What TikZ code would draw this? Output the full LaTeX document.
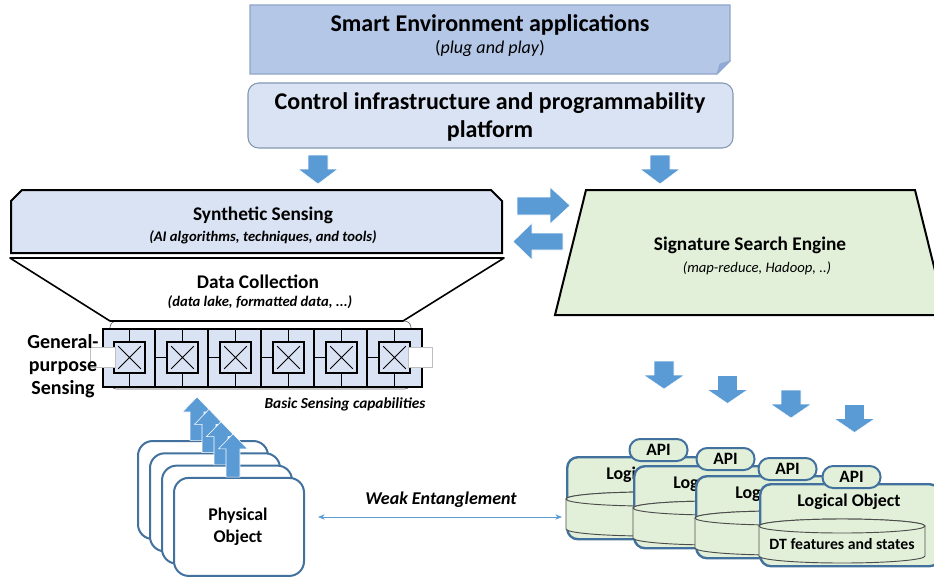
\documentclass[tikz,border=0pt]{standalone}
\usepackage{fontspec}
\setmainfont{Carlito}
\usetikzlibrary{arrows.meta}

\definecolor{appblue}{RGB}{180,199,231}
\definecolor{appedge}{RGB}{143,165,200}
\definecolor{appfold}{RGB}{143,170,220}
\definecolor{paleblue}{RGB}{218,227,243}
\definecolor{ctrledge}{RGB}{132,151,176}
\definecolor{arrowblue}{RGB}{91,155,213}
\definecolor{darkblue}{RGB}{65,113,156}
\definecolor{palegreen}{RGB}{226,240,217}

\begin{document}
\begin{tikzpicture}[x=0.75pt,y=0.75pt,yscale=-1,xscale=1,
  barrow/.style={fill=arrowblue, draw=white, line width=0.4},
  physbox/.style={draw=darkblue, line width=1.5, fill=white, rounded corners=11, minimum width=97.5pt, minimum height=73.5pt, anchor=north west},
  logbox/.style={draw=darkblue, line width=1.8, fill=palegreen, rounded corners=8, minimum width=135pt, minimum height=61.5pt, anchor=north west},
  apitab/.style={draw=darkblue, line width=1.5, fill=palegreen, rounded corners=8, minimum width=43.5pt, minimum height=16.5pt, inner sep=0pt, font=\fontsize{13}{15}\selectfont\bfseries},
  dbcyl/.style={draw=black!70, line width=0.7, fill=palegreen},
  xbox/.style={draw, line width=1.6, fill=paleblue, minimum size=23pt, inner sep=0pt,
    path picture={\draw[line width=0.7] ([shift={(3pt,-3pt)}]path picture bounding box.north west) -- ([shift={(-3pt,3pt)}]path picture bounding box.south east) ([shift={(-3pt,-3pt)}]path picture bounding box.north east) -- ([shift={(3pt,3pt)}]path picture bounding box.south west);}},
  bigtitle/.style={font=\fontsize{18}{21}\selectfont\bfseries, align=center, inner sep=0pt},
  midtitle/.style={font=\fontsize{14.5}{17}\selectfont\bfseries, align=center, inner sep=0pt},
  subnote/.style={font=\fontsize{11}{13}\selectfont\bfseries\itshape, align=center, inner sep=0pt},
  objtext/.style={font=\fontsize{13.4}{16.5}\selectfont\bfseries, align=center, inner sep=0pt}
]
\useasboundingbox (0,0) rectangle (934,576);

%Shape: Folded Corner [id:apps]
\draw[draw=appedge, fill=appblue, line width=0.8] (250,5) -- (730,5) -- (730,61) -- (717,74) -- (250,74) -- cycle ;
\draw[draw=appedge, fill=appfold, line width=0.5] (717,74) -- (720,64) -- (730,61) -- cycle ;
% Text Node
\node[bigtitle] (appstitle) at (490,25) {Smart Environment applications};
\node[inner sep=0pt, font=\fontsize{13.5}{16}\selectfont] (appsnote) at (490,48) {(\textit{plug and play})};

%Shape: Rounded Rectangle [id:control]
\draw[draw=ctrledge, fill=paleblue, line width=0.8, rounded corners=8] (248,83) rectangle (733,148) ;
% Text Node
\node[bigtitle] (ctrltitle) at (490,117) {Control infrastructure and programmability\\platform};

%Down Arrows [id:ctrlarrows]
\draw[barrow, shift={(318,155)}] (-10,0) -- (10,0) -- (10,14) -- (20,14) -- (0,29) -- (-20,14) -- (-10,14) -- cycle ;
\draw[barrow, shift={(660,155)}] (-10,0) -- (10,0) -- (10,14) -- (20,14) -- (0,29) -- (-20,14) -- (-10,14) -- cycle ;

%Shape: Snip Corners [id:synth]
\draw[fill=paleblue, line width=1.5] (11,201) -- (22,190) -- (491,190) -- (502,201) -- (502,253) -- (11,253) -- cycle ;
% Text Node
\node[midtitle] (synthtitle) at (263,215) {Synthetic Sensing};
\node[subnote] (synthnote) at (263,237) {(AI algorithms, techniques, and tools)};

%Shape: Rounded Outline [id:arrayshadow]
\draw[black!60, line width=0.5, rounded corners=5] (110,321) rectangle (411,389) ;
%Shape: Trapezoid [id:collect]
\draw[fill=white, line width=1.2, line join=round] (10,258) -- (504,258) -- (403,321) -- (110,321) -- cycle ;
% Text Node
\node[midtitle] (collecttitle) at (258,282) {Data Collection};
\node[subnote] (collectnote) at (260,302) {(data lake, formatted data, ...)};

%Shape: Sensor Array [id:sens]
\node[draw, fill=paleblue, line width=1.6, minimum width=239.25pt, minimum height=43.5pt, anchor=north west, inner sep=0pt] (sens) at (102,328) {};
\foreach \i in {1,...,5}
  \draw[line width=1.2] ({102+53*\i},328) -- ({102+53*\i},386) ;
\foreach \i in {0,...,5}{
  \node[xbox] (xb\i) at ({129.5+53*\i},357.5) {};
  \draw[line width=1.2] (xb\i.north) -- (xb\i.north |- sens.north) ;
  \draw[line width=1.2] (xb\i.south) -- (xb\i.south |- sens.south) ;
  \draw[line width=1.2] (xb\i.west) -- ++(-12,0) ;
}
%Shape: Rectangle [id:maskleft]
\draw[draw=black!25, fill=white, line width=0.5] (90,347) rectangle (115,367) ;
%Shape: Rectangle [id:maskright]
\draw[draw=black!25, fill=white, line width=0.5] (408,347) rectangle (432,367) ;

% Text Node
\node[font=\fontsize{15}{17.3}\selectfont\bfseries, align=center, inner sep=0pt] (gplabel) at (63,366) {General-\\purpose\\Sensing};
\node[font=\fontsize{11.5}{13}\selectfont\bfseries\itshape, inner sep=0pt] (basiclabel) at (345,404) {Basic Sensing capabilities};

%Physical Objects with Up Arrows
\foreach \i in {0,...,3}{
  \node[physbox] (phys\i) at ({137+12*\i},{440+12.3*\i}) {};
  \draw[barrow, shift={({197+12*\i},{397+12.3*\i})}] (0,0) -- (14.5,15) -- (7,15) -- (7,43.3) -- (-7,43.3) -- (-7,15) -- (-14.5,15) -- cycle ;
}
% Text Node
\node[objtext] (physlabel) at (238,527) {Physical\\Object};

%Block Arrows [id:exchange]
\draw[barrow] (517,197) -- (550,197) -- (550,187) -- (570,205.5) -- (550,224) -- (550,215) -- (517,215) -- cycle ;
\draw[barrow] (563,233) -- (532,233) -- (532,223) -- (513,241.5) -- (532,260) -- (532,250) -- (563,250) -- cycle ;

%Shape: Trapezoid [id:sse]
\draw[fill=palegreen, line width=1.5] (586,190) -- (915,190) -- (946,315) -- (555,315) -- cycle ;
% Text Node
\node[midtitle] (ssetitle) at (750,245) {Signature Search Engine};
\node[inner sep=0pt, font=\fontsize{11}{13}\selectfont\itshape] (ssenote) at (757,268) {(map-reduce, Hadoop, ..)};

%Down Arrows [id:ssearrows]
\foreach \i in {0,...,3}
  \draw[barrow, shift={({664+63.5*\i},{361+14.5*\i})}] (-10,0) -- (10,0) -- (10,14) -- (20.5,14) -- (0,28) -- (-20.5,14) -- (-10,14) -- cycle ;

%Logical Objects (the front one shows its whole title)
\foreach \x/\y/\seen [count=\i] in {566/456/Logi,633/465/Log,695/475/Log}{
  \node[logbox] (lobj\i) at (\x,\y) {};
  \node[apitab] (api\i) at (\x+92.5,\y-6) {API};
  \node[objtext, anchor=west] (ltitle\i) at (\x+40,\y+19) {\seen};
  \draw[dbcyl] (\x,\y+43) -- (\x,\y+73) arc[start angle=180, end angle=0, x radius=83, y radius=7] -- (\x+166,\y+43) arc[start angle=360, end angle=180, x radius=83, y radius=7] -- cycle ;
  \draw[dbcyl] (\x+83,\y+43) ellipse[x radius=83, y radius=7] ;
}
\node[logbox] (lobj4) at (759,483) {};
\node[apitab] (api4) at (851.5,477) {API};
\node[objtext] (ltitle4) at (849,502) {Logical Object};
\draw[dbcyl] (759,526) -- (759,556) arc[start angle=180, end angle=0, x radius=83, y radius=7] -- (925,526) arc[start angle=360, end angle=180, x radius=83, y radius=7] -- cycle ;
\draw[dbcyl] (842,526) ellipse[x radius=83, y radius=7] ;
% Text Node
\node[inner sep=0pt, font=\fontsize{11.8}{14}\selectfont\bfseries] (dtlabel) at (842,544) {DT features and states};

%Weak Entanglement
\coordinate (entL) at (318,517) ;
\coordinate (entR) at (562,517) ;
\draw[arrowblue, line width=0.6, {Stealth[length=5pt,width=4pt]}-{Stealth[length=5pt,width=4pt]}] (entL) -- (entR) ;
\node[inner sep=0pt, font=\fontsize{13.5}{16}\selectfont\bfseries\itshape] (weaklabel) at (441,500) {Weak Entanglement};

\end{tikzpicture}
\end{document}
